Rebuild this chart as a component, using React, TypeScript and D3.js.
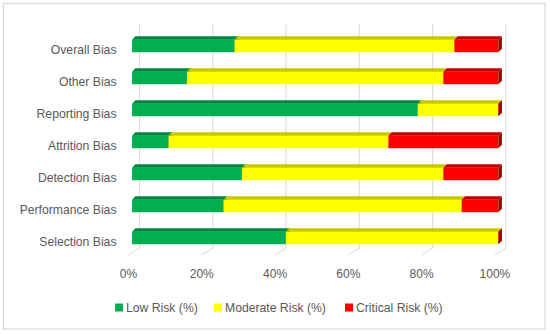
import { scaleBand, scaleLinear } from "d3";

const categories = [
  "Overall Bias",
  "Other Bias",
  "Reporting Bias",
  "Attrition Bias",
  "Detection Bias",
  "Performance Bias",
  "Selection Bias",
];
const lowRisk = [28, 15, 78, 10, 30, 25, 42];
const moderateRisk = [60, 70, 22, 60, 55, 65, 58];
const criticalRisk = [12, 15, 0, 30, 15, 10, 0];
const seriesNames = ["Low Risk (%)", "Moderate Risk (%)", "Critical Risk (%)"];
const ticks = [0, 20, 40, 60, 80, 100];

const front = ["#00B050", "#FFFF00", "#FF0000"];
const top = ["#00873D", "#C9C900", "#C00000"];
const side = ["#006F32", "#A8A800", "#A00000"];

const textColor = "#595959";
const font = "'Liberation Sans', Arial, sans-serif";

export default function App() {
  const W = 550;
  const H = 334;
  // bar front faces
  const x = scaleLinear().domain([0, 100]).range([132, 498.4]);
  const y = scaleBand<string>()
    .domain(categories)
    .range([30, 254])
    .paddingInner(0.61)
    .paddingOuter(0.305);
  const dx = 3.5; // bar depth
  const dy = 3.5;
  const wallDx = 7.5; // back wall offset
  const wallTop = 24;
  const wallBottom = 248;
  const floorDx = -11;
  const floorDy = 7;

  const series = [lowRisk, moderateRisk, criticalRisk];

  return (
    <svg
      width={W}
      height={H}
      style={{ position: "absolute", left: 0, top: 0 }}
      fontFamily={font}
    >
      <rect x={0} y={0} width={W} height={H} fill="#fff" />
      <rect
        x={3.5}
        y={3.5}
        width={541.5}
        height={325.5}
        fill="none"
        stroke="#d9d9d9"
        strokeWidth={1.2}
      />
      {/* gridlines on back wall + floor */}
      {ticks.map((t) => {
        const bx = x(t) + wallDx;
        return (
          <path
            key={t}
            d={`M${bx},${wallTop}V${wallBottom}L${bx + floorDx},${wallBottom + floorDy}`}
            fill="none"
            stroke="#d9d9d9"
            strokeWidth={1}
          />
        );
      })}
      {/* tick labels */}
      {ticks.map((t) => (
        <text
          key={t}
          x={x(t) + wallDx + floorDx}
          y={278}
          textAnchor="middle"
          fontSize={12}
          fill={textColor}
        >
          {t}%
        </text>
      ))}
      {/* bars */}
      {categories.map((c, i) => {
        const y0 = y(c)!;
        const y1 = y0 + y.bandwidth();
        let acc = 0;
        return (
          <g key={c}>
            {series.map((s, k) => {
              const x0 = x(acc);
              acc += s[i];
              const x1 = x(acc);
              return (
                <g key={k}>
                  {x1 > x0 && (
                    <>
                      <rect x={x0} y={y0} width={x1 - x0} height={y1 - y0} fill={front[k]} />
                      <path
                        d={`M${x0},${y0}L${x0 + dx},${y0 - dy}L${x1 + dx},${y0 - dy}L${x1},${y0}Z`}
                        fill={top[k]}
                      />
                    </>
                  )}
                  <path
                    d={`M${x1},${y0}L${x1 + dx},${y0 - dy}L${x1 + dx},${y1 - dy}L${x1},${y1}Z`}
                    fill={side[k]}
                  />
                </g>
              );
            })}
            <text
              x={116.5}
              y={(y0 + y1) / 2 + 7.5}
              textAnchor="end"
              fontSize={12.2}
              fill={textColor}
            >
              {c}
            </text>
          </g>
        );
      })}
      {/* legend */}
      {seriesNames.map((n, k) => {
        const lx = [115, 214, 345][k];
        return (
          <g key={n}>
            <rect x={lx} y={303.5} width={8} height={8} fill={front[k]} />
            <text x={lx + 11} y={311.5} fontSize={12.2} fill={textColor}>
              {n}
            </text>
          </g>
        );
      })}
    </svg>
  );
}
